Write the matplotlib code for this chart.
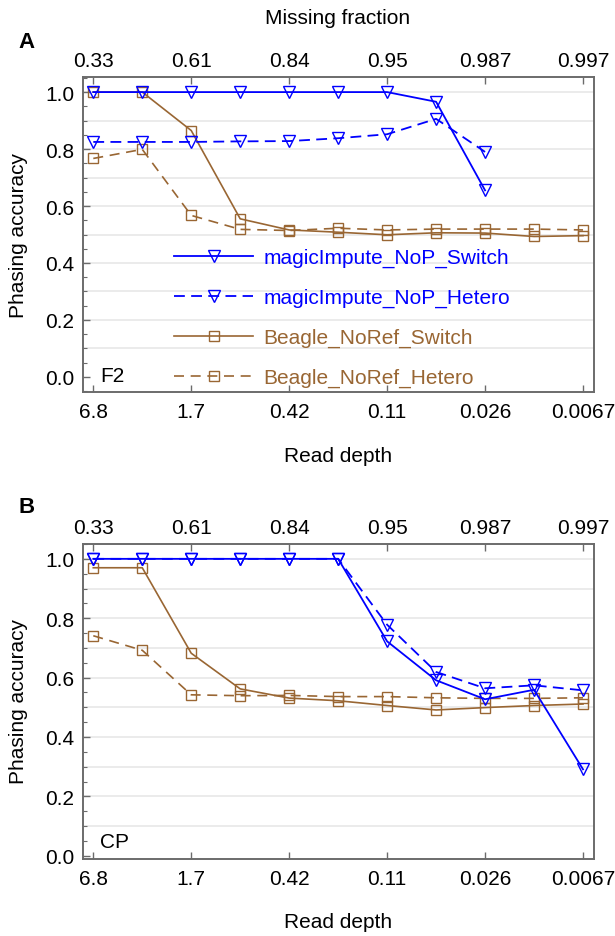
import matplotlib
matplotlib.use("Agg")
import matplotlib.pyplot as plt
from matplotlib.ticker import MultipleLocator, NullLocator, FixedLocator, FixedFormatter

plt.rcParams['font.family'] = ['Liberation Sans', 'DejaVu Sans']

# ---------------- data ----------------
depth = [6.8, 3.4, 1.7, 0.85, 0.425, 0.2125, 0.10625, 0.053125,
         0.0265625, 0.01328125, 0.006640625]
depth_ticks = [6.8, 1.7, 0.425, 0.10625, 0.0265625, 0.006640625]
depth_labels = ['6.8', '1.7', '0.42', '0.11', '0.026', '0.0067']
missing_labels = ['0.33', '0.61', '0.84', '0.95', '0.987', '0.997']

series_names = ['magicImpute_NoP_Switch', 'magicImpute_NoP_Hetero',
                'Beagle_NoRef_Switch', 'Beagle_NoRef_Hetero']

# Panel A (F2)
f2_magic_switch = [1.0, 1.0, 1.0, 1.0, 1.0, 1.0, 1.0, 0.966, 0.655]
f2_magic_hetero = [0.825, 0.825, 0.825, 0.827, 0.828, 0.838, 0.852, 0.906, 0.790]
f2_beagle_switch = [1.0, 1.0, 0.865, 0.555, 0.516, 0.508, 0.499, 0.506, 0.505, 0.493, 0.496]
f2_beagle_hetero = [0.767, 0.799, 0.567, 0.518, 0.514, 0.522, 0.516, 0.519, 0.519, 0.519, 0.516]

# Panel B (CP)
cp_magic_switch = [1.0, 1.0, 1.0, 1.0, 1.0, 1.0, 0.722, 0.591, 0.527, 0.559, 0.291]
cp_magic_hetero = [1.0, 1.0, 1.0, 1.0, 1.0, 1.0, 0.778, 0.619, 0.564, 0.574, 0.557]
cp_beagle_switch = [0.970, 0.970, 0.682, 0.562, 0.531, 0.522, 0.506, 0.491, 0.499, 0.506, 0.511]
cp_beagle_hetero = [0.741, 0.692, 0.542, 0.539, 0.540, 0.536, 0.536, 0.532, 0.530, 0.530, 0.532]

grid_levels = [0.1, 0.2, 0.3, 0.4, 0.5, 0.6, 0.7, 0.8, 0.9, 1.0]

# ---------------- styling ----------------
BLUE = '#0000ff'
BROWN = '#996633'
SPINE = '#6b6b6b'
FS = 15

W, H = 615, 937
fig = plt.figure(figsize=(W / 100, H / 100), dpi=100)


def px_axes(left, top, right, bottom):
    return fig.add_axes([left / W, 1 - bottom / H, (right - left) / W, (bottom - top) / H])


def style_axes(ax, ylim):
    ax.set_xscale('log')
    ax.set_xlim(7.90, 0.005685)
    ax.set_ylim(*ylim)
    ax.xaxis.set_major_locator(FixedLocator(depth_ticks))
    ax.xaxis.set_major_formatter(FixedFormatter(depth_labels))
    ax.xaxis.set_minor_locator(NullLocator())
    ax.yaxis.set_major_locator(MultipleLocator(0.2))
    ax.yaxis.set_minor_locator(MultipleLocator(0.05))
    ax.yaxis.set_major_formatter(matplotlib.ticker.FormatStrFormatter('%.1f'))
    ax.tick_params(axis='both', which='major', direction='in', length=5, width=1,
                   color=SPINE, labelsize=FS, top=False, right=False)
    ax.tick_params(axis='y', which='minor', direction='in', length=3, width=0.8,
                   color=SPINE, right=False)
    ax.tick_params(axis='x', which='major', pad=7)
    ax.tick_params(axis='y', which='major', pad=6)
    for s in ax.spines.values():
        s.set_color(SPINE)
        s.set_linewidth(1.2)
    ax.hlines(grid_levels, 0, 1, transform=ax.get_yaxis_transform(),
              colors='#e8e8e8', linewidth=1.2, zorder=0)

    top = ax.twiny()
    top.set_xscale('log')
    top.set_xlim(ax.get_xlim())
    top.xaxis.set_major_locator(FixedLocator(depth_ticks))
    top.xaxis.set_major_formatter(FixedFormatter(missing_labels))
    top.xaxis.set_minor_locator(NullLocator())
    top.tick_params(axis='x', which='major', direction='in', length=5, width=1,
                    color=SPINE, labelsize=FS, pad=5)
    for s in top.spines.values():
        s.set_color(SPINE)
        s.set_linewidth(1.2)
    return top


def draw(ax, ms_, mh_, bs_, bh_):
    hs = []
    h, = ax.plot(depth[:len(ms_)], ms_, color=BLUE, lw=1.3, marker='v', ms=8.5,
                 mfc='none', mec=BLUE, mew=1.0, label=series_names[0], zorder=4)
    hs.append(h)
    h, = ax.plot(depth[:len(mh_)], mh_, color=BLUE, lw=1.3, ls=(0, (6, 3.5)), marker='v',
                 ms=8.5, mfc='none', mec=BLUE, mew=1.0, label=series_names[1], zorder=4)
    hs.append(h)
    h, = ax.plot(depth[:len(bs_)], bs_, color=BROWN, lw=1.2, marker='s', ms=6.8,
                 mfc='none', mec=BROWN, mew=1.0, label=series_names[2], zorder=3)
    hs.append(h)
    h, = ax.plot(depth[:len(bh_)], bh_, color=BROWN, lw=1.2, ls=(0, (6, 4)), marker='s',
                 ms=6.8, mfc='none', mec=BROWN, mew=1.0, label=series_names[3], zorder=3)
    hs.append(h)
    return hs


# Panel A
axA = px_axes(82.7, 78, 594, 393)
style_axes(axA, (-0.053, 1.053))
handles = draw(axA, f2_magic_switch, f2_magic_hetero, f2_beagle_switch, f2_beagle_hetero)
axA.text(0.034, 0.052, 'F2', transform=axA.transAxes, fontsize=FS, va='center', ha='left')
leg = axA.legend(handles=handles, loc='upper left',
                 bbox_to_anchor=(174 / W, 1 - 249 / H), bbox_transform=fig.transFigure,
                 frameon=False, fontsize=FS, handlelength=3.8, handletextpad=0.48,
                 labelspacing=1.0, borderpad=0, borderaxespad=0, numpoints=1,
                 labelcolor='linecolor')
leg.set_zorder(10)

# Panel B
axB = px_axes(82.7, 545, 594, 860)
style_axes(axB, (-0.011, 1.05))
draw(axB, cp_magic_switch, cp_magic_hetero, cp_beagle_switch, cp_beagle_hetero)
axB.text(0.034, 0.057, 'CP', transform=axB.transAxes, fontsize=FS, va='center', ha='left')

# Labels
fig.text(338 / W, 1 - 18 / H, 'Missing fraction', fontsize=FS, ha='center', va='center')
fig.text(338 / W, 1 - 457 / H, 'Read depth', fontsize=FS, ha='center', va='center')
fig.text(338 / W, 1 - 923 / H, 'Read depth', fontsize=FS, ha='center', va='center')
fig.text(19 / W, 1 - 236 / H, 'Phasing accuracy', fontsize=FS, ha='center', va='center',
         rotation=90)
fig.text(19 / W, 1 - 702 / H, 'Phasing accuracy', fontsize=FS, ha='center', va='center',
         rotation=90)
fig.text(18 / W, 1 - 42 / H, 'A', fontsize=16, fontweight='bold', ha='left', va='center')
fig.text(18 / W, 1 - 508 / H, 'B', fontsize=16, fontweight='bold', ha='left', va='center')

fig.savefig('out.png', dpi=100)
